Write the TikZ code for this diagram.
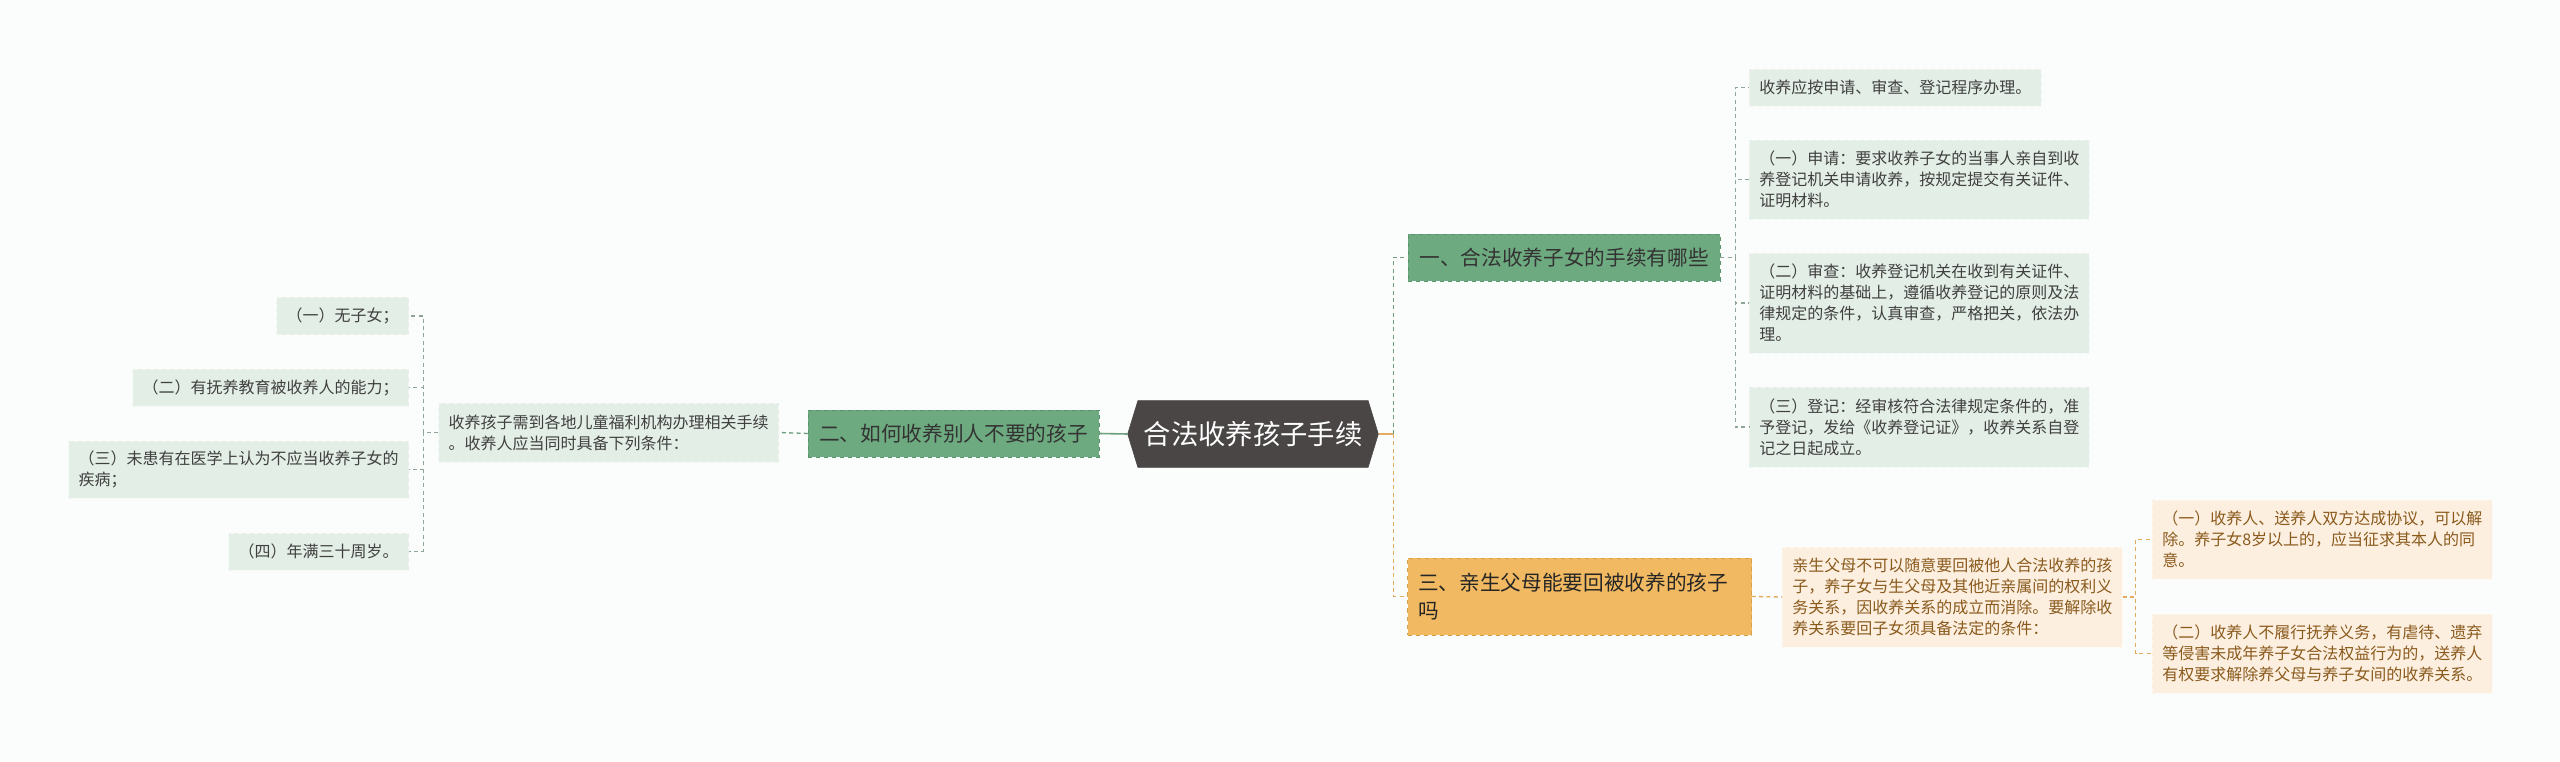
\documentclass[tikz,border=0pt]{standalone}
\usepackage{fontspec}
\setmainfont{Noto Sans CJK SC}
\usetikzlibrary{shapes.symbols}
\definecolor{bgc}{HTML}{FBFDFC}
\definecolor{rootc}{HTML}{4A4646}
\definecolor{gmain}{HTML}{6EAA80}
\definecolor{gbrd}{HTML}{5B946B}
\definecolor{gleafc}{HTML}{E3EEE6}
\definecolor{omain}{HTML}{F1B961}
\definecolor{obrd}{HTML}{D9A04C}
\definecolor{oleafc}{HTML}{FCEFE0}
\definecolor{otxt}{HTML}{8A5A1C}
\definecolor{gline}{HTML}{6C9F7E}
\definecolor{glinel}{HTML}{8FA596}
\definecolor{oline}{HTML}{E3AB5E}
% full-width punctuation
\newcommand\zlp{^^^^ff08}
\newcommand\zrp{^^^^ff09}
\newcommand\zco{^^^^ff1a}
\newcommand\zcm{^^^^ff0c}
\newcommand\zsc{^^^^ff1b}
\tikzset{
  hexa/.style={signal, signal to=east and west, signal pointer angle=146, draw=rootc, fill=rootc, text=white, font=\fontsize{20.5pt}{24pt}\selectfont, minimum width=188pt, minimum height=50pt, inner xsep=0pt},
  gblk/.style={draw=gbrd, fill=gmain, dashed, rectangle, text=black!80, font=\fontsize{15.5pt}{21.5pt}\selectfont, minimum height=35pt, align=left},
  oblk/.style={draw=obrd, fill=omain, dashed, rectangle, text=black!85, font=\fontsize{15.5pt}{21.5pt}\selectfont, minimum height=58pt, align=left, text width=242pt, inner xsep=8pt},
  gleaf/.style={draw=white!50!gleafc, fill=gleafc, dashed, rectangle, text=black!75, font=\fontsize{12pt}{15.75pt}\selectfont, minimum height=28pt, align=left, inner xsep=7.5pt},
  oleaf/.style={draw=white!50!oleafc, fill=oleafc, dashed, rectangle, text=otxt, font=\fontsize{12pt}{15.75pt}\selectfont, align=left, inner xsep=7.5pt, text width=240pt},
  lnk/.style={line width=1pt, dash pattern=on 3pt off 2.5pt},
}
\begin{document}
\begin{tikzpicture}[x=0.75pt, y=-0.75pt]

\path[use as bounding box, fill=bgc] (0,0) rectangle (2560,762);

\node[hexa] (root) at (1253,434) {合法收养孩子手续};

% left branch
\node[gblk, minimum width=218pt] (m2) at (953.5,433.5) {二、如何收养别人不要的孩子};
\node[gleaf, text width=240pt, minimum height=44pt] (lt) at (608.5,432.5)
  {收养孩子需到各地儿童福利机构办理相关手续\\。收养人应当同时具备下列条件\zco};
\node[gleaf, anchor=east, minimum width=97.5pt] (l1) at (409,316) {\zlp 一\zrp 无子女\zsc};
\node[gleaf, anchor=east, minimum width=206pt] (l2) at (409,387.5) {\zlp 二\zrp 有抚养教育被收养人的能力\zsc};
\node[gleaf, anchor=east, text width=240pt, minimum height=43pt] (l3) at (409,469.5)
  {\zlp 三\zrp 未患有在医学上认为不应当收养子女的\\疾病\zsc};
\node[gleaf, anchor=east, minimum width=133.5pt] (l4) at (409,551.5) {\zlp 四\zrp 年满三十周岁。};

% right branch, green
\node[gblk, minimum width=234pt] (m1) at (1564,257.5) {一、合法收养子女的手续有哪些};
\node[gleaf, anchor=west, minimum width=219pt] (r0) at (1749,87.5) {收养应按申请、审查、登记程序办理。};
\node[gleaf, anchor=west, text width=240pt, minimum height=59pt] (r1) at (1749,179.5)
  {\zlp 一\zrp 申请\zco 要求收养子女的当事人亲自到收\\养登记机关申请收养\zcm 按规定提交有关证件、\\证明材料。};
\node[gleaf, anchor=west, text width=240pt, minimum height=75pt] (r2) at (1749,303)
  {\zlp 二\zrp 审查\zco 收养登记机关在收到有关证件、\\证明材料的基础上\zcm 遵循收养登记的原则及法\\律规定的条件\zcm 认真审查\zcm 严格把关\zcm 依法办\\理。};
\node[gleaf, anchor=west, text width=240pt, minimum height=60pt] (r3) at (1749,427)
  {\zlp 三\zrp 登记\zco 经审核符合法律规定条件的\zcm 准\\予登记\zcm 发给《收养登记证》\zcm 收养关系自登\\记之日起成立。};

% right branch, orange
\node[oblk] (m3) at (1579.5,596.5) {三、亲生父母能要回被收养的孩子\\吗};
\node[oleaf, anchor=west, minimum height=75pt] (om) at (1782,597)
  {亲生父母不可以随意要回被他人合法收养的孩\\子\zcm 养子女与生父母及其他近亲属间的权利义\\务关系\zcm 因收养关系的成立而消除。要解除收\\养关系要回子女须具备法定的条件\zco};
\node[oleaf, anchor=west, minimum height=59pt] (o1) at (2152,539.5)
  {\zlp 一\zrp 收养人、送养人双方达成协议\zcm 可以解\\除。养子女8岁以上的\zcm 应当征求其本人的同\\意。};
\node[oleaf, anchor=west, minimum height=59pt] (o2) at (2152,653.5)
  {\zlp 二\zrp 收养人不履行抚养义务\zcm 有虐待、遗弃\\等侵害未成年养子女合法权益行为的\zcm 送养人\\有权要求解除养父母与养子女间的收养关系。};

% connectors
\draw[gline, line width=1.2pt] (root.west) -- (m2.east);
\draw[lnk, gline] (m2.west) -- (lt.east);
\foreach \n in {l1,l2,l3,l4}
  \draw[lnk, glinel] (lt.west) -- ++(-15,0) |- (\n.east);

\draw[oline, line width=1.2pt] (root.east) -- ++(15,0) coordinate (rj);
\draw[lnk, gline] (rj) |- (m1.west);
\draw[lnk, oline] (rj) |- (m3.west);
\foreach \n in {r0,r1,r2,r3}
  \draw[lnk, glinel] (m1.east) -- ++(15,0) |- (\n.west);

\draw[lnk, oline] (m3.east) -- (om.west);
\foreach \n in {o1,o2}
  \draw[lnk, oline] (om.east) -- ++(13,0) |- (\n.west);

\end{tikzpicture}
\end{document}
